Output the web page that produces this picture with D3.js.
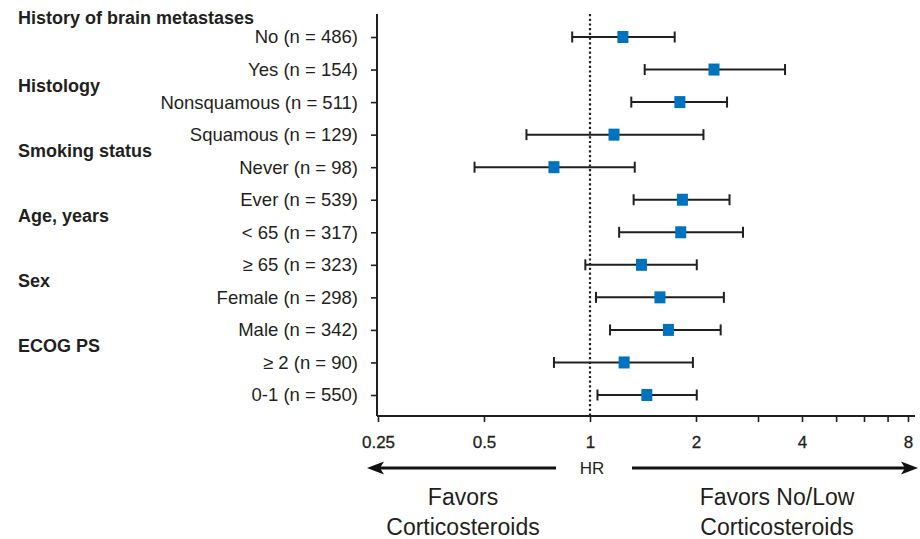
<!DOCTYPE html>
<html>
<head>
<meta charset="utf-8">
<script src="https://cdn.jsdelivr.net/npm/d3@7"></script>
<style>
  body { margin: 0; background: #fff; }
  text { font-family: "Liberation Sans", Arial, sans-serif; fill: #231f20; }
</style>
</head>
<body>
<script>
// subgroup rows, top to bottom
const labels = ["No (n = 486)", "Yes (n = 154)", "Nonsquamous (n = 511)", "Squamous (n = 129)",
  "Never (n = 98)", "Ever (n = 539)", "< 65 (n = 317)", "\u2265 65 (n = 323)",
  "Female (n = 298)", "Male (n = 342)", "\u2265 2 (n = 90)", "0-1 (n = 550)"]
const hr    = [1.24, 2.25, 1.80, 1.17, 0.79, 1.83, 1.81, 1.40, 1.58, 1.67, 1.25, 1.45]
const lower = [0.89, 1.43, 1.31, 0.66, 0.47, 1.33, 1.21, 0.97, 1.04, 1.14, 0.79, 1.05]
const upper = [1.74, 3.58, 2.45, 2.10, 1.34, 2.49, 2.72, 2.01, 2.40, 2.35, 1.96, 2.01]

// group headings and the row each one starts at
const groupNames = ["History of brain metastases", "Histology", "Smoking status", "Age, years", "Sex", "ECOG PS"]
const groupFirst = [0, 2, 4, 6, 8, 10]

const xTicks = [0.25, 0.5, 1, 2, 3, 4, 5, 6, 7, 8]
const xLabels = [0.25, 0.5, 1, 2, 4, 8]

const width = 920, height = 539
const plotLeft = 377, plotRight = 915, plotTop = 14, plotBottom = 416

const svg = d3.select('body').append('svg')
    .attr('width', width)
    .attr('height', height)

const xScale = d3.scaleLog().base(2)
    .domain([0.25, 8])
    .range([378, 908])

const yScale = d3.scalePoint()
    .domain(labels)
    .range([37, 395])

const ink = '#231f20'

// x axis
const xAxis = svg.append('g')
    .attr('transform', 'translate(0,' + plotBottom + ')')
    .call(d3.axisBottom(xScale)
        .tickValues(xTicks)
        .tickSize(6)
        .tickPadding(14)
        .tickFormat(d => xLabels.includes(d) ? String(d) : ''))
xAxis.select('.domain').remove()
xAxis.selectAll('line').attr('stroke', ink).attr('stroke-width', 1.6)
xAxis.selectAll('text').attr('font-size', 17).attr('fill', ink)
    .attr('font-family', '"Liberation Sans", Arial, sans-serif')
    .attr('stroke', ink).attr('stroke-width', 0.3)
svg.append('line')
    .attr('x1', plotLeft).attr('x2', plotRight)
    .attr('y1', plotBottom).attr('y2', plotBottom)
    .attr('stroke', ink).attr('stroke-width', 2)

// y axis
const yAxis = svg.append('g')
    .attr('transform', 'translate(' + plotLeft + ',0)')
    .call(d3.axisLeft(yScale).tickSize(6).tickPadding(13))
yAxis.select('.domain').remove()
yAxis.selectAll('line').attr('stroke', ink).attr('stroke-width', 1.6)
yAxis.selectAll('text').attr('font-size', 18.5).attr('fill', ink)
    .attr('font-family', '"Liberation Sans", Arial, sans-serif')
svg.append('line')
    .attr('x1', plotLeft).attr('x2', plotLeft)
    .attr('y1', plotTop).attr('y2', plotBottom)
    .attr('stroke', ink).attr('stroke-width', 2)

// group headings, half a row above their first row (top one sits a bit higher)
const step = yScale.step()
svg.selectAll('.group')
    .data(groupNames)
    .enter()
    .append('text')
    .attr('class', 'group')
    .attr('x', 18)
    .attr('y', (d, i) => yScale(labels[groupFirst[i]]) - step / 2 - (i === 0 ? 3.5 : 0))
    .attr('dy', '0.35em')
    .attr('font-size', 18)
    .attr('font-weight', 'bold')
    .text(d => d)

// reference line at HR = 1
svg.append('line')
    .attr('x1', xScale(1)).attr('x2', xScale(1))
    .attr('y1', plotTop).attr('y2', plotBottom)
    .attr('stroke', ink).attr('stroke-width', 2.2)
    .attr('stroke-dasharray', '2.2,2.5')

// confidence intervals
const rows = svg.selectAll('.row')
    .data(labels)
    .enter()
    .append('g')
    .attr('class', 'row')

rows.append('line')
    .attr('x1', (d, i) => xScale(lower[i]))
    .attr('x2', (d, i) => xScale(upper[i]))
    .attr('y1', d => yScale(d)).attr('y2', d => yScale(d))
    .attr('stroke', ink).attr('stroke-width', 2)

rows.append('line')
    .attr('x1', (d, i) => xScale(lower[i])).attr('x2', (d, i) => xScale(lower[i]))
    .attr('y1', d => yScale(d) - 5.5).attr('y2', d => yScale(d) + 5.5)
    .attr('stroke', ink).attr('stroke-width', 2)

rows.append('line')
    .attr('x1', (d, i) => xScale(upper[i])).attr('x2', (d, i) => xScale(upper[i]))
    .attr('y1', d => yScale(d) - 5.5).attr('y2', d => yScale(d) + 5.5)
    .attr('stroke', ink).attr('stroke-width', 2)

rows.append('rect')
    .attr('x', (d, i) => xScale(hr[i]) - 5.5)
    .attr('y', d => yScale(d) - 6)
    .attr('width', 11)
    .attr('height', 12)
    .attr('fill', '#0073bf')

// direction arrows under the axis
const arrowY = 468
svg.append('line')
    .attr('x1', 556).attr('x2', 380)
    .attr('y1', arrowY).attr('y2', arrowY)
    .attr('stroke', '#111').attr('stroke-width', 3)
svg.append('path')
    .attr('d', `M367,${arrowY} L384,${arrowY - 6.5} L380,${arrowY} L384,${arrowY + 6.5} Z`)
    .attr('fill', '#111')
svg.append('line')
    .attr('x1', 632).attr('x2', 905)
    .attr('y1', arrowY).attr('y2', arrowY)
    .attr('stroke', '#111').attr('stroke-width', 3)
svg.append('path')
    .attr('d', `M918,${arrowY} L901,${arrowY - 6.5} L905,${arrowY} L901,${arrowY + 6.5} Z`)
    .attr('fill', '#111')

svg.append('text')
    .attr('x', 592).attr('y', arrowY)
    .attr('dy', '0.35em')
    .attr('text-anchor', 'middle')
    .attr('font-size', 17)
    .text('HR')

const favors = [
  {x: 463, lines: ['Favors', 'Corticosteroids']},
  {x: 777, lines: ['Favors No/Low', 'Corticosteroids']}
]
favors.forEach(f => {
  f.lines.forEach((t, j) => {
    svg.append('text')
        .attr('x', f.x)
        .attr('y', 505 + j * 30)
        .attr('text-anchor', 'middle')
        .attr('font-size', 23)
        .text(t)
  })
})
</script>
</body>
</html>
